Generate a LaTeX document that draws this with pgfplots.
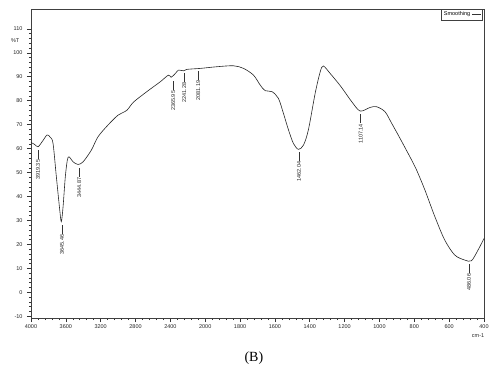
\documentclass[border=0pt]{standalone}
\usepackage{fontspec}
\setmainfont{Liberation Sans}
\newfontfamily\timesfont{Liberation Serif}
\usepackage{pgfplots}
\pgfplotsset{compat=1.18}
\begin{document}
\begin{tikzpicture}
\path (-31pt,-50pt) rectangle (464pt,318pt);
\begin{axis}[
  scale only axis, width=453pt, height=309pt,
  at={(0,0)}, anchor=south west,
  x dir=reverse,
  x coord trafo/.code={\pgfmathparse{ifthenelse(#1>2000,2000+(#1-2000)/2,#1)}},
  xmin=400, xmax=4000, ymin=-10.7, ymax=118.3,
  xtick={4000,3600,3200,2800,2400,2000,1800,1600,1400,1200,1000,800,600,400},
  xticklabels={4000,3600,3200,2800,2400,2000,1800,1600,1400,1200,1000,800,600,400},
  ytick={-10,0,10,20,30,40,50,60,70,80,90,100,110},
  minor x tick num=4, minor y tick num=4,
  tick pos=left, tick align=outside,
  major tick length=4pt, minor tick length=2pt,
  every tick/.style={black!80, line width=0.6pt},
  axis line style={black!75, line width=0.8pt},
  ticklabel style={font=\fontsize{5.5}{6}\selectfont, black!85},
  /pgf/number format/assume math mode=true,
  xticklabel style={yshift=1pt},
  yticklabel style={xshift=-1pt},
  clip=false,
  legend style={at={(rel axis cs:0.996,1)}, anchor=north east, font=\fontsize{5.5}{6}\selectfont,
    inner sep=0.6pt, draw=black!75, line width=0.5pt, row sep=-1pt},
  legend plot pos=right,
  legend image code/.code={\draw[black!80, line width=0.6pt] (0cm,0cm) -- (0.3cm,0cm);},
]
\addplot[smooth, tension=0.5, black!85, line width=0.6pt] coordinates {
(4000,62.6) (3960,61.8) (3919,60.8) (3870,63.0) (3816,65.7) (3780,64.8) (3747,62.2)
(3709,48.3) (3670,34.4) (3652,29.5) (3632,35.7) (3606,48.3) (3583,55.2) (3563,56.6)
(3517,54.5) (3460,53.4) (3402,54.5) (3307,59.4) (3230,65.0) (3115,69.9) (3000,74.0)
(2900,76.0) (2824,79.4) (2670,83.8) (2517,87.9) (2422,90.7) (2391,89.8) (2340,91.5)
(2307,92.8) (2249,92.5) (2210,93.1) (2057,93.5) (1933,94.2) (1838,94.6) (1780,93.5)
(1723,90.7) (1685,86.6) (1656,84.2) (1617,83.8) (1580,81.0) (1551,74.7) (1522,67.8)
(1494,62.2) (1465,59.7) (1436,61.5) (1408,67.8) (1369,83.1) (1340,92.1) (1322,94.5)
(1283,91.4) (1236,87.3) (1207,84.5) (1159,79.6) (1111,75.7) (1054,77.2) (1016,77.5)
(968,75.4) (930,70.6) (882,64.3) (815,55.2) (787,51.1) (739,42.7) (682,31.6)
(625,21.8) (568,15.6) (511,13.5) (472,13.2) (434,17.7) (400,22.5)
};
\addlegendentry{Smoothing}
\tikzset{pk/.style={font=\fontsize{5.5}{6}\selectfont, rotate=90, anchor=east, inner sep=0.5pt, black!85}}
\draw[black!80, line width=0.6pt] (axis cs:3919.35,59.4) -- ([yshift=-9pt]axis cs:3919.35,59.4) node[pk] {3919.35};
\draw[black!80, line width=0.6pt] (axis cs:3645.46,28.1) -- ([yshift=-9pt]axis cs:3645.46,28.1) node[pk] {3645.46};
\draw[black!80, line width=0.6pt] (axis cs:3444.87,51.9) -- ([yshift=-9pt]axis cs:3444.87,51.9) node[pk] {3444.87};
\draw[black!80, line width=0.6pt] (axis cs:2365.95,88.2) -- ([yshift=-9pt]axis cs:2365.95,88.2) node[pk] {2365.95};
\draw[black!80, line width=0.6pt] (axis cs:2241.28,91.6) -- ([yshift=-9pt]axis cs:2241.28,91.6) node[pk] {2241.28};
\draw[black!80, line width=0.6pt] (axis cs:2081.19,92.4) -- ([yshift=-9pt]axis cs:2081.19,92.4) node[pk] {2081.19};
\draw[black!80, line width=0.6pt] (axis cs:1462.04,58.6) -- ([yshift=-9pt]axis cs:1462.04,58.6) node[pk] {1462.04};
\draw[black!80, line width=0.6pt] (axis cs:1107.14,74.4) -- ([yshift=-9pt]axis cs:1107.14,74.4) node[pk] {1107.14};
\draw[black!80, line width=0.6pt] (axis cs:486.06,11.8) -- ([yshift=-9pt]axis cs:486.06,11.8) node[pk] {486.06};
\node[font=\fontsize{5.5}{6}\selectfont, black!85] at (rel axis cs:-0.035,0.898) {\%T};
\node[font=\fontsize{5.5}{6}\selectfont, black!85] at ([yshift=-17.5pt]rel axis cs:0.987,0) {cm-1};
\node[font=\timesfont\fontsize{14}{16}\selectfont] at ([yshift=-40pt]rel axis cs:0.492,0) {(B)};
\end{axis}
\end{tikzpicture}
\end{document}
